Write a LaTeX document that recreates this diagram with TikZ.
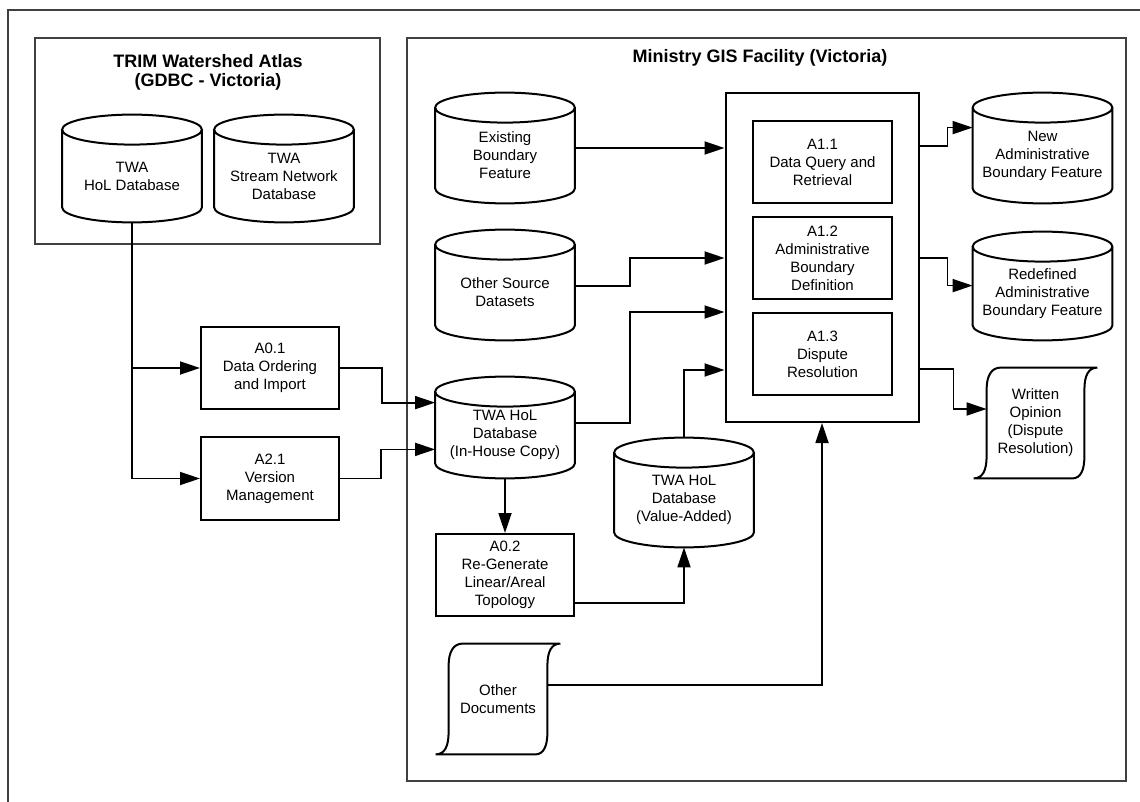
\documentclass[tikz,border=0pt]{standalone}
\usepackage{fontspec}
\setmainfont{Liberation Sans}
\usetikzlibrary{arrows.meta,calc}
\tikzset{
  frame/.style={draw=black!75,line width=0.6pt},
  boxline/.style={draw=black,line width=1pt},
  txt/.style={font=\fontsize{7.5}{9}\selectfont,align=center},
  proc/.style={txt,draw=black,line width=1pt,rectangle,inner sep=0pt,minimum width=69pt,minimum height=41pt},
  cylnode/.style={txt,rectangle,inner sep=0pt,minimum width=69.5pt},
  docnode/.style={txt,rectangle,inner sep=0pt,minimum width=49pt,minimum height=55pt},
  conn/.style={draw,line width=0.9pt,-{Triangle[length=10pt,width=6.5pt]}},
  ttl/.style={font=\bfseries\fontsize{9}{9.8}\selectfont,align=center},
}
\newcommand\cylshape[1]{%
  \draw[boxline] let \p1=(#1.north west), \p2=(#1.south east) in
    (\x1,\y1) -- (\x1,\y2+7.5pt)
    arc[start angle=180,end angle=360,x radius={(\x2-\x1)/2},y radius=7.5pt]
    -- (\x2,\y1)
    (#1.north) ellipse [x radius={(\x2-\x1)/2},y radius=7.5pt];}
\newcommand\docshape[1]{%
  \draw[boxline] let \p1=(#1.north west), \p2=(#1.south east) in
    (\x1+7pt,\y1) .. controls (\x1+2.5pt,\y1) and (\x1,\y1-4pt) .. (\x1,\y1-11pt)
    -- (\x1,\y2+11pt) .. controls (\x1,\y2+4pt) and (\x1-2pt,\y2) .. (\x1-6.5pt,\y2)
    -- (\x2-6pt,\y2) .. controls (\x2-2pt,\y2) and (\x2,\y2+4pt) .. (\x2,\y2+11pt)
    -- (\x2,\y1-11pt) .. controls (\x2,\y1-4pt) and (\x2+2pt,\y1) .. (\x2+6.5pt,\y1)
    -- cycle;}
\begin{document}
\begin{tikzpicture}[x=0.5pt,y=0.5pt]
\useasboundingbox (0,0) rectangle (1140,-802);
\clip (0,0) rectangle (1140,-802);
% frames
\draw[frame] (8,-10) rectangle (1160,-820);
\node[frame,rectangle,inner sep=0pt,minimum width=172.5pt,minimum height=103pt] (trim) at (207.5,-141) {};
\node[frame,rectangle,inner sep=0pt,minimum width=359.5pt,minimum height=371.5pt] (ministry) at (766.5,-409.5) {};
\node[ttl] (trimt) at (208,-72.5) {TRIM Watershed Atlas\\(GDBC - Victoria)};
\node[ttl] (mint) at (760,-58) {Ministry GIS Facility (Victoria)};
% cylinders
\node[cylnode,minimum height=46pt] (hol) at (132,-176) {TWA\\HoL Database};
\node[cylnode,minimum height=46pt] (stream) at (284,-176) {TWA\\Stream Network\\Database};
\node[cylnode,minimum height=47.5pt] (exist) at (505,-155.5) {Existing\\Boundary\\Feature};
\node[cylnode,minimum height=47.5pt] (other) at (505,-292.5) {Other Source\\Datasets};
\node[cylnode,minimum height=43pt] (inhouse) at (505,-435) {TWA HoL\\Database\\(In-House Copy)};
\node[cylnode,minimum height=47pt] (value) at (684,-500) {TWA HoL\\Database\\(Value-Added)};
\node[cylnode,minimum height=47.5pt] (newadm) at (1042.5,-155.5) {New\\Administrative\\Boundary Feature};
\node[cylnode,minimum height=46.5pt] (redef) at (1042.5,-293.5) {Redefined\\Administrative\\Boundary Feature};
\foreach \c in {hol,stream,exist,other,inhouse,value,newadm,redef}{\cylshape{\c}}
% processes
\node[proc] (a01) at (270,-368) {A0.1\\Data Ordering\\and Import};
\node[proc,minimum height=41.5pt] (a21) at (270,-478.5) {A2.1\\Version\\Management};
\node[proc] (a02) at (505,-575) {A0.2\\Re-Generate\\Linear/Areal\\Topology};
\node[proc,minimum width=96.5pt,minimum height=164.5pt] (a1) at (822,-257.5) {};
\node[proc,minimum width=69.5pt] (a11) at (822.5,-162) {A1.1\\Data Query and\\Retrieval};
\node[proc,minimum width=69.5pt] (a12) at (822.5,-258) {A1.2\\Administrative\\Boundary\\Definition};
\node[proc,minimum width=69.5pt] (a13) at (822.5,-354) {A1.3\\Dispute\\Resolution};
% documents
\node[docnode] (docs) at (498,-699) {Other\\Documents};
\node[docnode,minimum width=48.5pt] (written) at (1035.5,-423) {Written\\Opinion\\(Dispute\\Resolution)};
\docshape{docs}
\docshape{written}
% connectors
\draw[conn] (hol.south) |- (a01.west);
\draw[conn] (hol.south) |- (a21.west);
\draw[conn] (a01.east) -- ++(42,0) |- ([yshift=-5.5pt]inhouse.north west);
\draw[conn] (a21.east) -- ++(41,0) |- ([yshift=14.5pt]inhouse.south west);
\draw[conn] (inhouse.south) -- (a02.north);
\draw[conn] ([yshift=7pt]a02.south east) -| (value.south);
\draw[conn] ([yshift=7.5pt]value.north) |- ([yshift=26.5pt]a1.south west);
\draw[conn] ([yshift=6pt]inhouse.east) -- ++(55,0) |- (a1.west |- a13.north);
\draw[conn] ([yshift=3.25pt]other.east) -- ++(55,0) |- (a1.west |- a12.west);
\coordinate (e1) at ([yshift=3.75pt]exist.east);
\draw[conn] (e1) -- (e1 -| a1.west);
\draw[conn] ([yshift=-27pt]a1.north east) -- ++(28,0) |- ([yshift=-10pt]newadm.north west);
\draw[conn] (a1.east |- a12.east) -- ++(28,0) |- ([yshift=-19.5pt]redef.north west);
\draw[conn] ([yshift=27pt]a1.south east) -- ++(34,0) |- ([yshift=7pt]written.west);
\draw[conn] ([yshift=7pt]docs.east) -| (a1.south);
\end{tikzpicture}
\end{document}
